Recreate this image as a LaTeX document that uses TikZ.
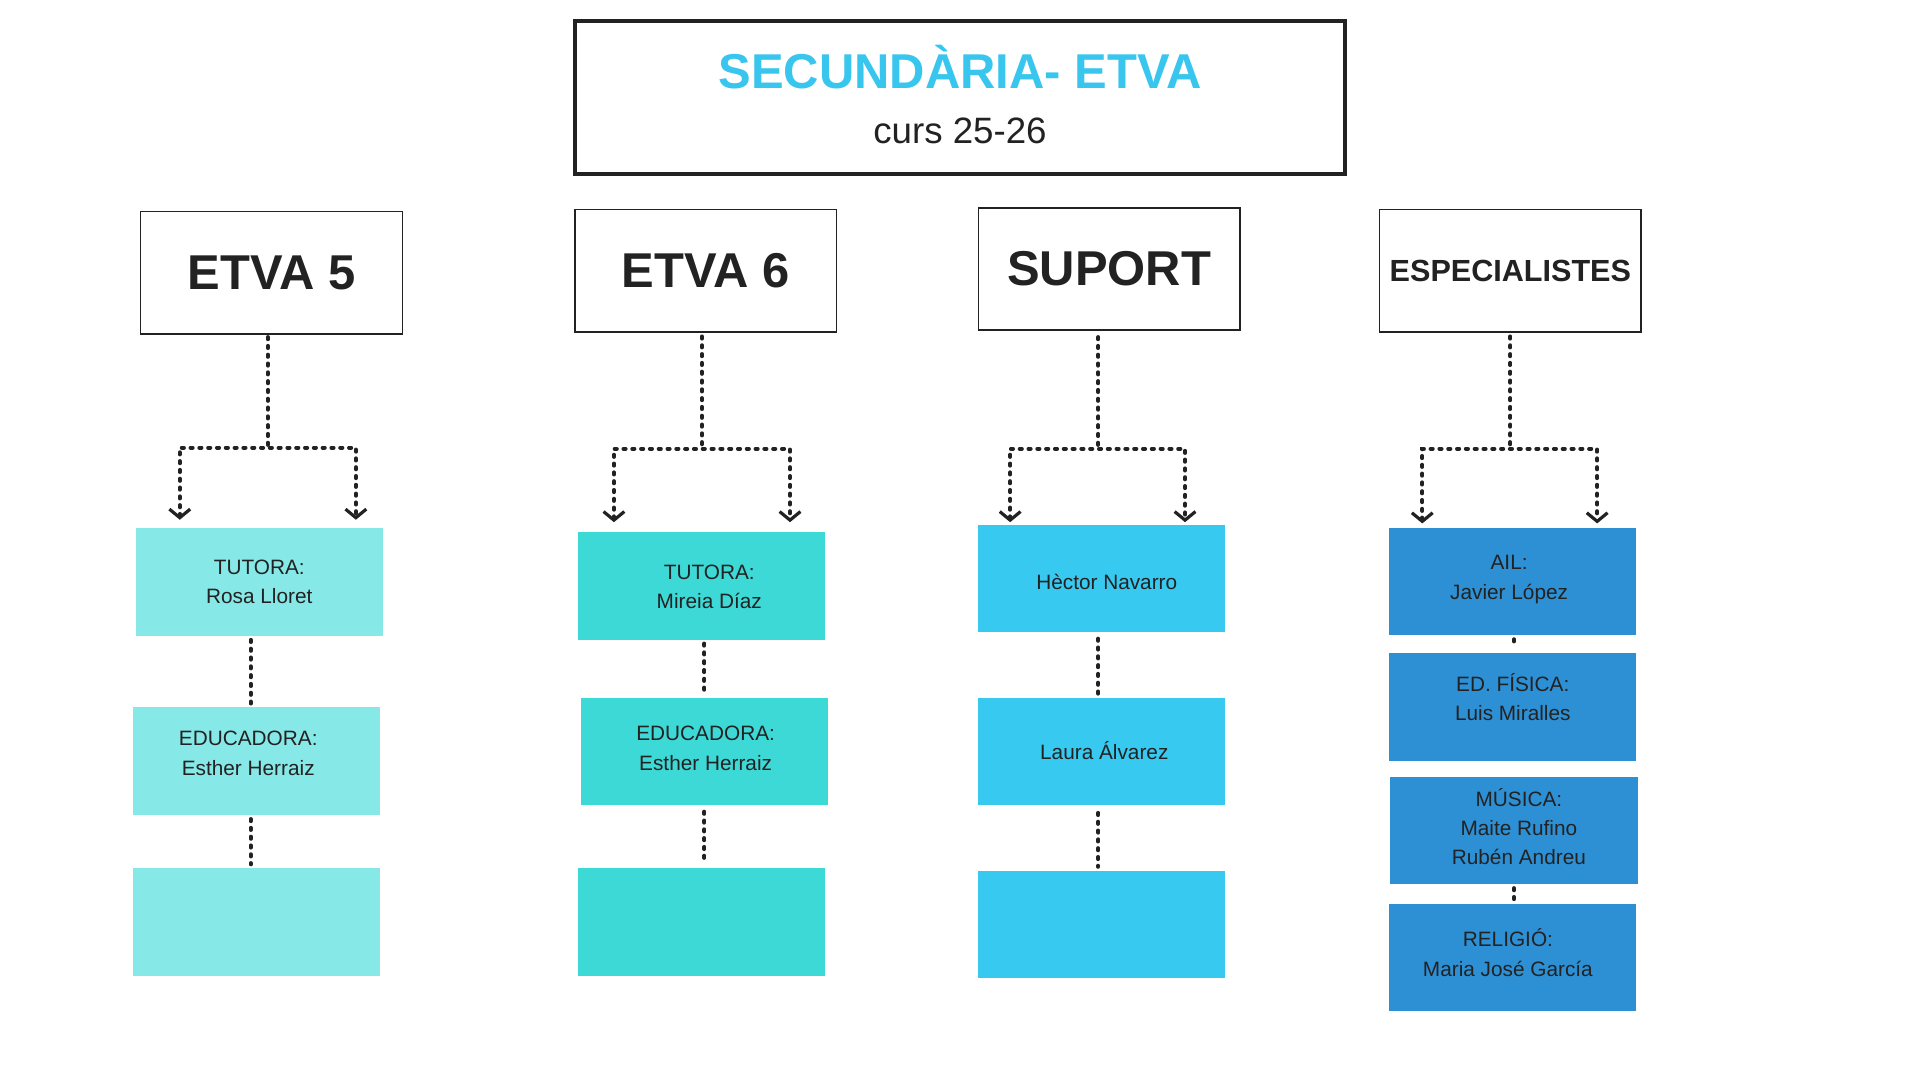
\documentclass[tikz,border=0pt]{standalone}
\usepackage{fontspec}
\setmainfont{Liberation Sans}
\usetikzlibrary{arrows.meta}
\definecolor{ctitle}{HTML}{38C6EE}
\definecolor{cfive}{HTML}{87E9E7}
\definecolor{csix}{HTML}{3DD9D6}
\definecolor{csup}{HTML}{38C9F0}
\definecolor{cesp}{HTML}{2D90D5}
\definecolor{ink}{HTML}{222222}
\tikzset{barb/.tip={Straight Barb[length=7pt,width=17pt,line width=2.6pt]}}
\begin{document}
\begin{tikzpicture}[x=1pt,y=-1pt,
 hdr/.style={draw=ink, line width=1.2pt, fill=white, inner sep=0, minimum width=214pt, minimum height=100pt, font=\bfseries\fontsize{40}{44}\selectfont, text=ink},
 card/.style={inner sep=0, draw=none, minimum width=202pt, minimum height=88pt},
 txt/.style={font=\fontsize{17}{24}\selectfont, text=ink, align=center, inner sep=0},
 dots/.style={draw=ink, line width=3.2pt, line cap=round, dash pattern=on 1.8pt off 5.4pt},
]
\useasboundingbox (0,0) rectangle (1570,883.1);
\fill[white] (0,0) rectangle (1570,883.1);

% title
\node[draw=ink, line width=3.3pt, minimum width=630pt, minimum height=125pt, inner sep=0] (title) at (785,79.5) {};
\node[anchor=base, font=\bfseries\fontsize{40}{44}\selectfont, text=ctitle, inner sep=0] (ttl) at (785,72) {SECUNDÀRIA- ETVA};
\node[anchor=base, font=\fontsize{30}{34}\selectfont, text=ink, inner sep=0] (crs) at (785,117) {curs 25-26};

% headers
\node[hdr] (h5) at (222,223) {ETVA 5};
\node[hdr] (h6) at (577,221.5) {ETVA 6};
\node[hdr] (hs) at (907,220) {SUPORT};
\node[hdr, font=\bfseries\fontsize{25}{30}\selectfont] (he) at (1235,221.5) {ESPECIALISTES};

% cards ETVA 5
\node[card, fill=cfive] (c1) at (212,476) {};
\node[card, fill=cfive] (c2) at (210,622.5) {};
\node[card, fill=cfive] (c3) at (210,754) {};
% cards ETVA 6
\node[card, fill=csix] (d1) at (574,479) {};
\node[card, fill=csix] (d2) at (576,614.5) {};
\node[card, fill=csix] (d3) at (574,754) {};
% cards SUPORT
\node[card, fill=csup] (s1) at (901,473) {};
\node[card, fill=csup] (s2) at (901,614.5) {};
\node[card, fill=csup] (s3) at (901,756) {};
% cards ESPECIALISTES
\node[card, fill=cesp] (p1) at (1237,475.5) {};
\node[card, fill=cesp] (p2) at (1237,578) {};
\node[card, fill=cesp] (p3) at (1238,679) {};
\node[card, fill=cesp] (p4) at (1237,783) {};

% card texts
\node[txt] (tc1) at (212,476) {TUTORA:\\Rosa Lloret};
\node[txt] (tc2) at (203,616) {EDUCADORA:\\Esther Herraiz};
\node[txt] (td1) at (580,480) {TUTORA:\\Mireia Díaz};
\node[txt] (td2) at (577,612) {EDUCADORA:\\Esther Herraiz};
\node[txt] (ts1) at (905,476) {Hèctor Navarro};
\node[txt] (ts2) at (903,614) {Laura Álvarez};
\node[txt] (tp1) at (1234,474) {AIL:\\Javier López};
\node[txt] (tp2) at (1237,570) {ED. FÍSICA:\\Luis Miralles};
\node[txt] (tp3) at (1242,676) {MÚSICA:\\Maite Rufino\\Rubén Andreu};
\node[txt] (tp4) at (1233,779) {RELIGIÓ:\\Maria José García};

% branch connectors
\coordinate (b5) at (219,366); \coordinate (l5) at (147,366); \coordinate (r5) at (291,366);
\coordinate (la5) at (147,425); \coordinate (ra5) at (291,425);
\coordinate (b6) at (574,367); \coordinate (l6) at (502,367); \coordinate (r6) at (646,367);
\coordinate (la6) at (502,427); \coordinate (ra6) at (646,427);
\coordinate (bs) at (898,367); \coordinate (ls) at (826,367); \coordinate (rs) at (969,367);
\coordinate (las) at (826,427); \coordinate (ras) at (969,427);
\coordinate (be) at (1235,367); \coordinate (le) at (1163,367); \coordinate (re) at (1306,367);
\coordinate (lae) at (1163,428); \coordinate (rae) at (1306,428);

\draw[dots] ([yshift=-2pt]h5.south -| b5) -- (b5);
\draw[dots, barb-barb] (la5) -- (l5) -- (r5) -- (ra5);
\draw[dots] ([yshift=-3pt]h6.south -| b6) -- (b6);
\draw[dots, barb-barb] (la6) -- (l6) -- (r6) -- (ra6);
\draw[dots] ([yshift=-5pt]hs.south -| bs) -- (bs);
\draw[dots, barb-barb] (las) -- (ls) -- (rs) -- (ras);
\draw[dots] ([yshift=-3pt]he.south -| be) -- (be);
\draw[dots, barb-barb] (lae) -- (le) -- (re) -- (rae);

% vertical connectors between cards
\coordinate (x5) at (205,0); \coordinate (x6) at (576,0);
\coordinate (xs) at (898,0); \coordinate (xe) at (1238,0);
\draw[dots] ([yshift=-3pt]c1.south -| x5) -- ([yshift=3pt]c2.north -| x5);
\draw[dots] ([yshift=-3pt]c2.south -| x5) -- ([yshift=3pt]c3.north -| x5);
\draw[dots] ([yshift=-3pt]d1.south -| x6) -- ([yshift=3pt]d2.north -| x6);
\draw[dots] ([yshift=-5pt]d2.south -| x6) -- ([yshift=3pt]d3.north -| x6);
\draw[dots] ([yshift=-5pt]s1.south -| xs) -- ([yshift=3pt]s2.north -| xs);
\draw[dots] ([yshift=-6pt]s2.south -| xs) -- ([yshift=3pt]s3.north -| xs);
\draw[dots] ([yshift=-3pt]p1.south -| xe) -- ([yshift=5pt]p2.north -| xe);
\draw[dots] ([yshift=-3pt]p3.south -| xe) -- ([yshift=3pt]p4.north -| xe);
\end{tikzpicture}
\end{document}
